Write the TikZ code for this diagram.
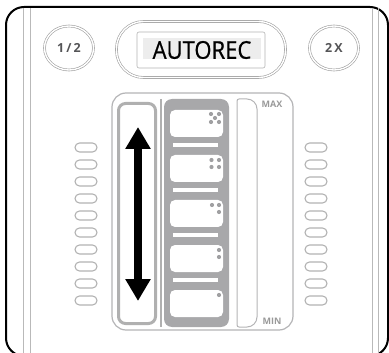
\documentclass[tikz,border=0pt]{standalone}
\usepackage{fontspec}
\setmainfont{Open Sans}
\newfontfamily\autofont{Open Sans}[FakeBold=0.7]
\usetikzlibrary{shapes.geometric,arrows.meta,positioning}
\definecolor{panelgray}{HTML}{B4B4B6}
\definecolor{colgray}{HTML}{A8A8AA}
\definecolor{dotgray}{HTML}{A0A0A2}
\definecolor{labelgray}{HTML}{555557}
\tikzstyle{ringbtn} = [ellipse, draw=gray!75, double=white, double distance=1.4pt, line width=0.6pt, inner sep=0pt, minimum width=49pt, minimum height=44pt, text=labelgray, font=\bfseries\fontsize{12.5}{12.5}\selectfont]
\tikzstyle{capsule} = [rectangle, rounded corners=27pt, draw=gray!75, double=white, double distance=1.4pt, line width=0.6pt, inner sep=0pt, minimum width=169pt, minimum height=56pt]
\tikzstyle{panelline} = [draw=panelgray, line width=1.2pt]
\tikzstyle{sideline} = [gray!55, line width=0.8pt]
\tikzstyle{pill} = [draw=gray!60, line width=1.1pt, rounded corners=4.5pt]
\tikzstyle{keydot} = [fill=dotgray]
\tikzstyle{scalelabel} = [font=\bfseries\fontsize{9}{9}\selectfont, text=gray!80, inner sep=0pt]

\begin{document}
\begin{tikzpicture}[x=1pt, y=-1pt]
    \useasboundingbox (0,0) rectangle (389,353);

    % Housing
    \draw[line width=2pt, rounded corners=18pt] (6,7) rectangle (388,356);
    \draw[sideline] (23,8) -- (23,353);
    \draw[sideline] (30,8) -- (30,353);
    \draw[sideline] (372,8) -- (372,353);
    \draw[sideline] (378,8) -- (378,353);

    % Top buttons
    \node[ringbtn] (half) at (69,48) {1\,/\,2};
    \node[ringbtn] (double) at (334,48) {2\,X};
    \node[capsule] (autorec) at (201,49.5) {};
    \draw[gray!60, line width=0.6pt, rounded corners=2pt] (137,32) rectangle (265,68);
    \fill[gray!14] (143,38) rectangle (261,59);
    \node[inner sep=0pt, xscale=0.9, font=\autofont\fontsize{24.5}{24.5}\selectfont] (autotext) at (202,50) {AUTOREC};

    % Slider panel
    \draw[panelline, rounded corners=14pt] (112,93) rectangle (293,330);
    \draw[draw=gray!62, line width=3pt, rounded corners=7pt] (118.5,103.5) rectangle (155.5,323.5);
    \draw[gray!62, line width=1.5pt] (161,99) -- (161,327);
    \fill[colgray, rounded corners=8pt] (164,99) rectangle (229,327);
    \foreach \k in {0,...,4}
        \fill[white, rounded corners=5pt] (170,110+45*\k) rectangle (223,137+45*\k);
    \foreach \k in {0,...,3}
        \fill[white] (173,143+45*\k) rectangle (218,147+45*\k);

    % Key dots
    \foreach \p in {(211,114),(219,114),(215,118),(211,122),(219,122),
                    (211.5,160),(219,160),(211.5,167),(219,167),
                    (212,205),(219,205),(219,212),
                    (219,250),(219,257),
                    (219,295)}
        \fill[keydot] \p circle (2.1pt);

    % Level scale
    \draw[panelline, line width=1pt] (237,325) -- (237,101) .. controls (237,99.9) and (237.9,99) .. (239,99)
        -- (247,99) .. controls (252.5,99) and (257,103.5) .. (257,109)
        -- (257,317) .. controls (257,322.5) and (252.5,327) .. (247,327)
        -- (239,327) .. controls (237.9,327) and (237,326.1) .. (237,325) -- cycle;
    \node[scalelabel] (max) at (272,104) {MAX};
    \node[scalelabel] (min) at (272,321) {MIN};

    % Arrow
    \coordinate (up) at (138,127);
    \coordinate (down) at (138,301);
    \draw[line width=7.5pt, {Triangle[width=24pt,length=22pt]}-{Triangle[width=24pt,length=22pt]}] (up) -- (down);

    % Side lights
    \foreach \k in {0,...,9} {
        \draw[pill] (75,143+17*\k) rectangle (97,152+17*\k);
        \draw[pill] (305,143+17*\k) rectangle (327,152+17*\k);
    }
\end{tikzpicture}
\end{document}
